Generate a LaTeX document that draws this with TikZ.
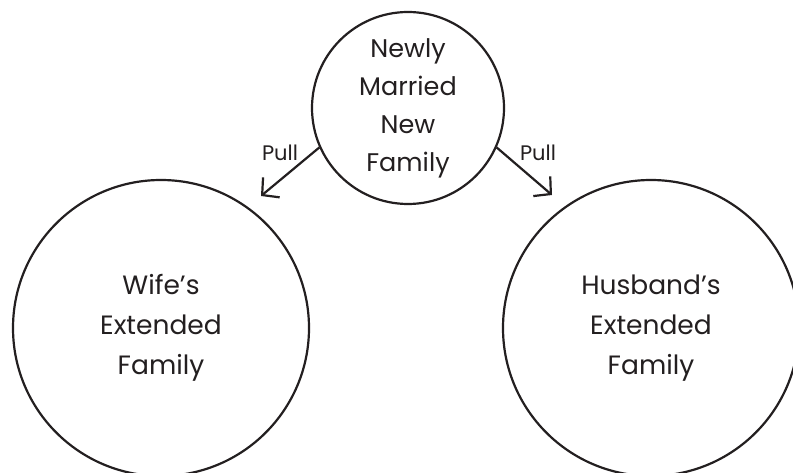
\documentclass[tikz,border=0pt]{standalone}
\usepackage{fontspec}
\setmainfont{Poppins}
\usetikzlibrary{arrows.meta}
\definecolor{ink}{HTML}{231F20}
\begin{document}
\begin{tikzpicture}[x=1pt,y=-1pt,
  circ/.style={circle, draw=ink, line width=2.2pt, inner sep=0pt, text=ink, align=center},
  lbl/.style={text=ink, inner sep=0pt, font=\fontsize{21}{24}\selectfont},
  pull/.style={draw=ink, line width=2.2pt, -{Straight Barb[length=12pt,width=26pt]}}]
\useasboundingbox[fill=white] (0,0) rectangle (793,473);
\node[circ, minimum size=192pt, font=\fontsize{25.5}{38}\selectfont] (top) at (408,108) {Newly\\Married\\New\\Family};
\node[circ, minimum size=296pt, font=\fontsize{26.5}{40}\selectfont] (wife) at (161,328) {Wife’s\\Extended\\Family};
\node[circ, minimum size=296pt, font=\fontsize{26.5}{40}\selectfont] (husb) at (651,328) {Husband’s\\Extended\\Family};
\coordinate (wtip) at (261,196);
\coordinate (htip) at (552,195);
\draw[pull] (top.204) -- (wtip);
\draw[pull] (top.336) -- (htip);
\node[lbl] (pl) at (280,153) {Pull};
\node[lbl] (pr) at (538,153) {Pull};
\end{tikzpicture}
\end{document}
